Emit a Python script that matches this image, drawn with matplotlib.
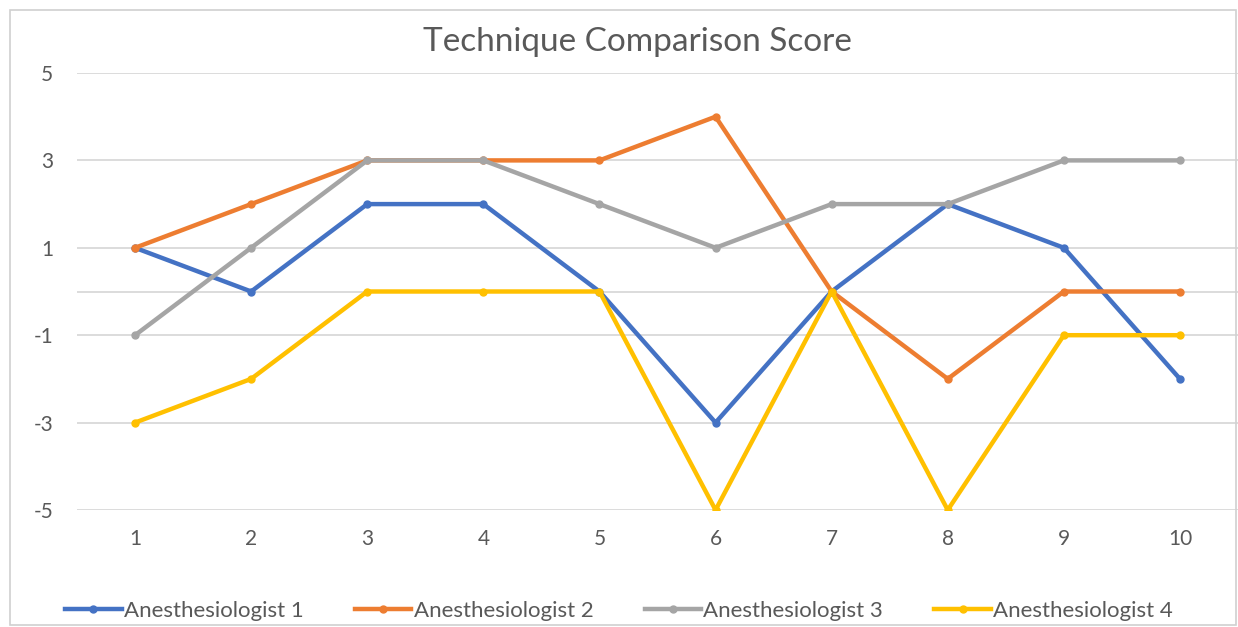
import matplotlib.pyplot as plt
from matplotlib.patches import Rectangle

plt.rcParams['font.family'] = ['Lato', 'DejaVu Sans']
plt.rcParams['axes.unicode_minus'] = False

# scores per case for each anesthesiologist
cases = [1, 2, 3, 4, 5, 6, 7, 8, 9, 10]
anesth_1 = [1, 0, 2, 2, 0, -3, 0, 2, 1, -2]
anesth_2 = [1, 2, 3, 3, 3, 4, 0, -2, 0, 0]
anesth_3 = [-1, 1, 3, 3, 2, 1, 2, 2, 3, 3]
anesth_4 = [-3, -2, 0, 0, 0, -5, 0, -5, -1, -1]
names = ['Anesthesiologist 1', 'Anesthesiologist 2',
         'Anesthesiologist 3', 'Anesthesiologist 4']
yticks = [-5, -3, -1, 1, 3, 5]

colors = ['#4472C4', '#ED7D31', '#A5A5A5', '#FFC000']
text_col = '#595959'
grid_col = '#D9D9D9'

W, H = 1238, 627
fig = plt.figure(figsize=(W / 100, H / 100), dpi=100)
# plot area in pixel terms: left 77, right 1238, top 73, bottom 510
ax = fig.add_axes([77 / W, 1 - 510 / H, (1238 - 77) / W, (510 - 73) / H])

# chart border
fig.patches.append(Rectangle((10 / W, 2 / H), 1226 / W, 1 - 12 / H,
                             transform=fig.transFigure, fill=False,
                             edgecolor='#D0D0D0', linewidth=1.2))

for ys in yticks:
    ax.axhline(ys, color=grid_col, linewidth=1.3, zorder=0)
ax.axhline(0, color=grid_col, linewidth=1.3, zorder=0)

for series, c, n in zip([anesth_1, anesth_2, anesth_3, anesth_4], colors, names):
    ax.plot(cases, series, color=c, linewidth=3.2, marker='o',
            markersize=5, label=n, zorder=3)

ax.set_xlim(0.5, 10.5)
ax.set_ylim(-5, 5)
ax.set_xticks(cases)
ax.set_yticks(yticks)
ax.tick_params(length=0, labelsize=15, colors=text_col)
ax.tick_params(axis='y', pad=17)
ax.tick_params(axis='x', pad=14)
for s in ax.spines.values():
    s.set_visible(False)

fig.text(0.515, 1 - 42 / H, 'Technique Comparison Score', ha='center',
         va='center', fontsize=24, color=text_col)

fig.legend(loc='center', bbox_to_anchor=(619 / W, 1 - 611 / H), ncol=4,
           frameon=False, fontsize=16, handlelength=2.55, handletextpad=0.1,
           columnspacing=2.3, labelcolor=text_col)

fig.savefig('out.png', dpi=100)
